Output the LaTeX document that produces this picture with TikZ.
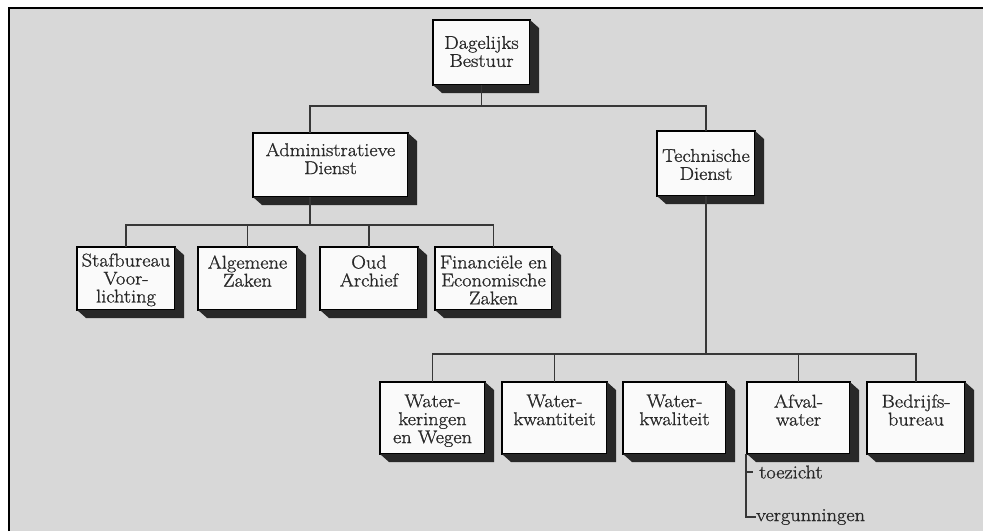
\documentclass[tikz,border=0pt]{standalone}
\usepackage{fontspec}
\usetikzlibrary{calc}

\newfontfamily\orgfont{Latin Modern Roman}[FakeBold=1.0, FakeStretch=1.1]

\definecolor{paper}{RGB}{216,216,216}
\definecolor{ink}{RGB}{40,40,40}
\definecolor{wirec}{RGB}{55,55,55}
\definecolor{sidec}{RGB}{40,40,40}
\definecolor{face}{RGB}{250,250,250}

% text block of a box: fixed size, lines set from the top (#1 = top gap)
\newcommand\orglabel[4]{\parbox[c][#3][t]{#2}{\centering\vspace*{#1}#4}}
% dark extruded side (right and bottom) of a box
\newcommand\extrude[1]{%
  \fill[sidec] (#1.north east) -- ++(9,8) -- ($(#1.south east)+(9,8)$)
    -- ($(#1.south west)+(9,8)$) -- (#1.south west) -- (#1.south east) -- cycle;}

\tikzset{
  orgbox/.style={draw=black, line width=1.3pt, fill=face, inner sep=0pt,
    outer sep=0pt, text=ink, font=\orgfont\fontsize{18.5}{18}\selectfont},
  wire/.style={draw=wirec, line width=1.6pt},
  subtext/.style={inner sep=0pt, text=ink, font=\orgfont\fontsize{18.5}{18}\selectfont}
}

\begin{document}
\begin{tikzpicture}[x=1pt, y=-1pt]
\useasboundingbox (0,0) rectangle (983,531);
% sheet and frame
\fill[white] (0,0) rectangle (983,531);
\fill[paper] (9,8) rectangle (983,531);
\draw[black, line width=2pt] (8.5,531) -- (8.5,7.5) -- (983,7.5);

% top
\node[orgbox] (db) at (481.5,52.5) {\orglabel{16pt}{97pt}{65pt}{Dagelijks\\Bestuur}};
% services
\node[orgbox] (ad) at (330.5,165) {\orglabel{10pt}{155pt}{64pt}{Administratieve\\Dienst}};
\node[orgbox] (td) at (706,163.5) {\orglabel{18pt}{98pt}{65pt}{Technische\\Dienst}};
% administrative units
\node[orgbox] (sv) at (126,278.5) {\orglabel{6.5pt}{98pt}{63pt}{Stafbureau\\Voor-\\lichting}};
\node[orgbox] (az) at (247.5,278.5) {\orglabel{8.5pt}{99pt}{63pt}{Algemene\\Zaken}};
\node[orgbox] (oa) at (369,278.5) {\orglabel{8.5pt}{98pt}{63pt}{Oud\\Archief}};
\node[orgbox] (fe) at (493.5,278.5) {\orglabel{8.5pt}{117pt}{63pt}{Financi\"ele en\\Economische\\Zaken}};
% technical units
\node[orgbox] (wk) at (432.5,418) {\orglabel{12.5pt}{105pt}{72pt}{Water-\\keringen\\en Wegen}};
\node[orgbox] (wq) at (554.5,418) {\orglabel{12.5pt}{105pt}{72pt}{Water-\\kwantiteit}};
\node[orgbox] (wl) at (674.5,418) {\orglabel{12.5pt}{103pt}{72pt}{Water-\\kwaliteit}};
\node[orgbox] (af) at (798.5,418) {\orglabel{12.5pt}{103pt}{72pt}{Afval-\\water}};
\node[orgbox] (bb) at (916,418) {\orglabel{12.5pt}{98pt}{72pt}{Bedrijfs-\\bureau}};

\foreach \n in {db,ad,td,sv,az,oa,fe,wk,wq,wl,af,bb} {\extrude{\n}}

% sub tasks of Afvalwater
\node[subtext, anchor=west] (tz) at (759,472) {toezicht};
\node[subtext, anchor=west] (vg) at (756,517) {vergunningen};

% bus lines
\coordinate (bus1) at (0,106);
\coordinate (bus2) at (0,225);
\coordinate (bus3) at (0,354);
\coordinate (adx) at (310,0);
\coordinate (afl) at (746,0);

\draw[wire] (db.south) -- (db.south |- bus1);
\draw[wire] (ad.north -| adx) -- (adx |- bus1) -| (td.north);

\draw[wire] (ad.south -| adx) -- (adx |- bus2);
\draw[wire] (sv.north) |- (fe.north |- bus2) -- (fe.north);
\draw[wire] (az.north) -- (az.north |- bus2);
\draw[wire] (oa.north) -- (oa.north |- bus2);

\draw[wire] (td.south) -- (td.south |- bus3);
\draw[wire] (wk.north) |- (bb.north |- bus3) -- (bb.north);
\draw[wire] (wq.north) -- (wq.north |- bus3);
\draw[wire] (af.north) -- (af.north |- bus3);

\draw[wire] (af.south -| afl) |- (vg.west);
\draw[wire] (afl |- tz.west) -- ($(tz.west)+(-6,0)$);
\end{tikzpicture}
\end{document}
